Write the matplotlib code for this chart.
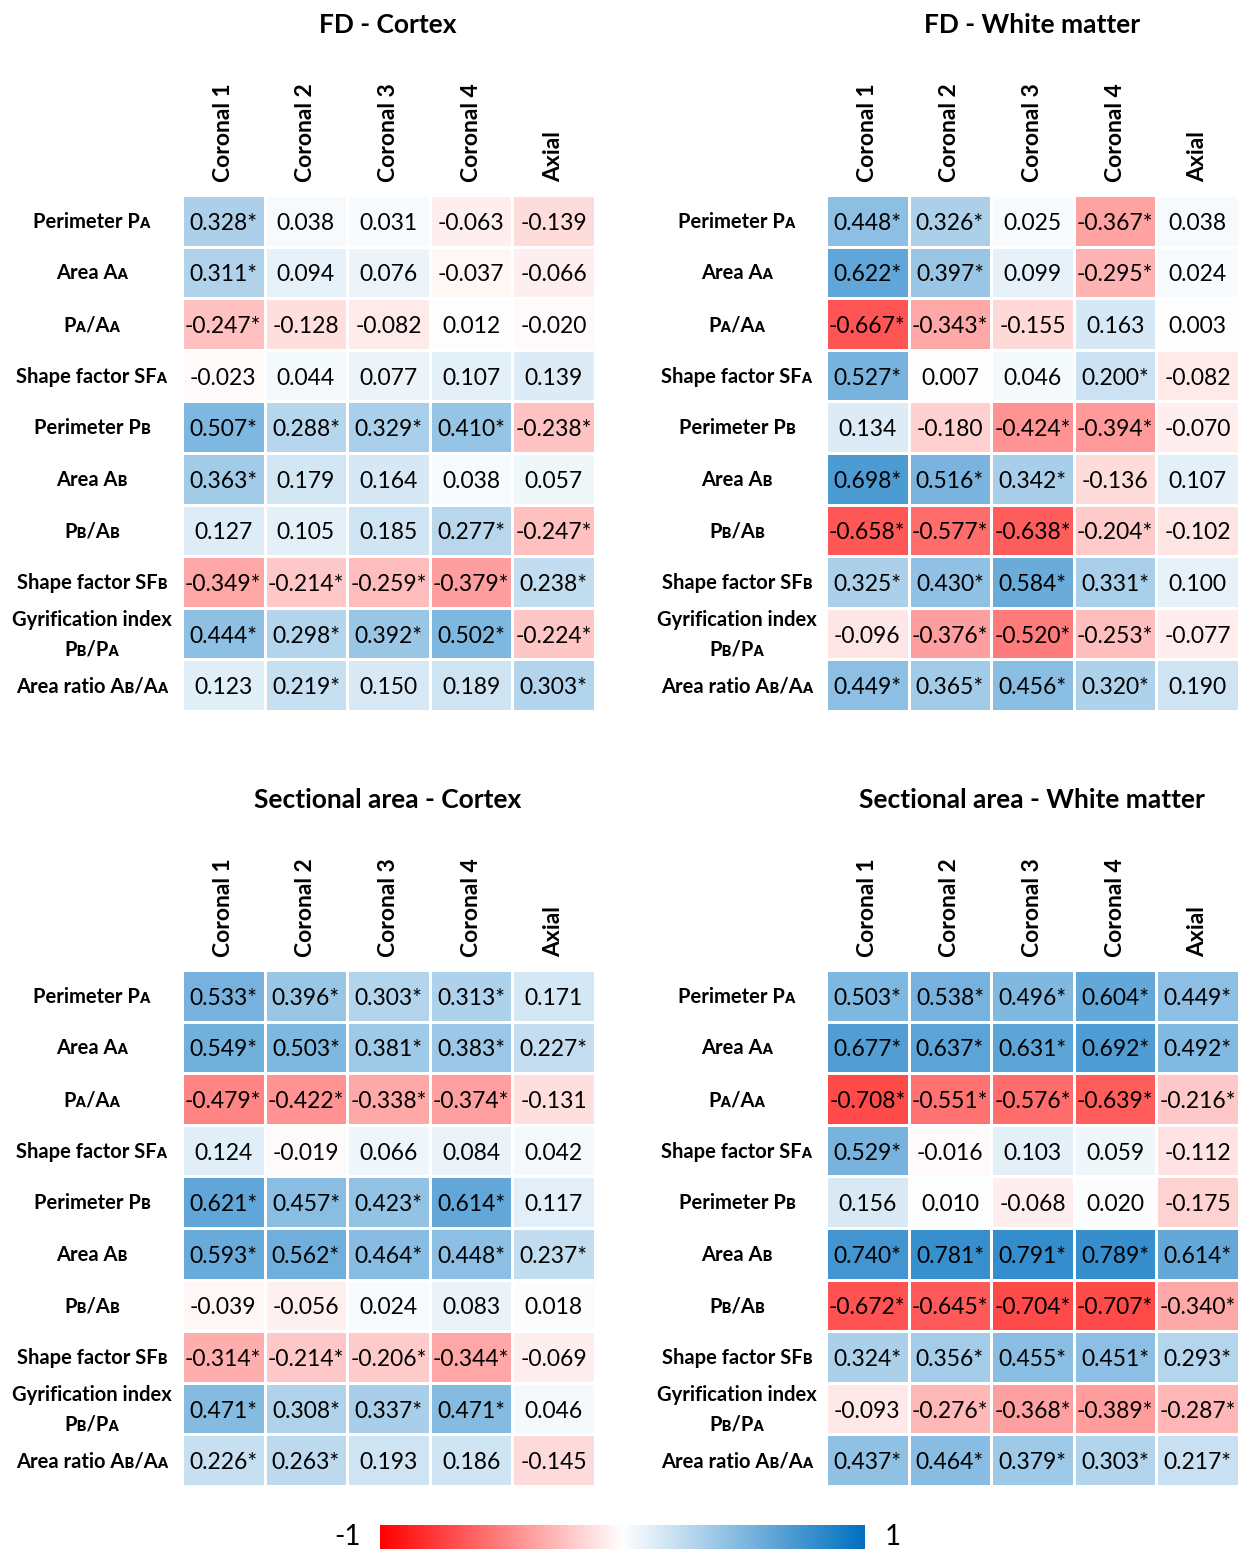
import matplotlib
matplotlib.use("Agg")
import matplotlib.pyplot as plt
import numpy as np
from matplotlib.colors import LinearSegmentedColormap
from matplotlib.transforms import blended_transform_factory

plt.rcParams['font.family'] = ['Lato', 'DejaVu Sans']

# small-capital A / B used as region markers in the row labels
A, B = "\u1d00", "\u0299"

columns = ["Coronal 1", "Coronal 2", "Coronal 3", "Coronal 4", "Axial"]
rows = [
    f"Perimeter P{A}",
    f"Area A{A}",
    f"P{A}/A{A}",
    f"Shape factor SF{A}",
    f"Perimeter P{B}",
    f"Area A{B}",
    f"P{B}/A{B}",
    f"Shape factor SF{B}",
    f"Gyrification index\nP{B}/P{A}",
    f"Area ratio A{B}/A{A}",
]

# correlation coefficients, "*" marks significance
fd_cortex = [
    ["0.328*", "0.038", "0.031", "-0.063", "-0.139"],
    ["0.311*", "0.094", "0.076", "-0.037", "-0.066"],
    ["-0.247*", "-0.128", "-0.082", "0.012", "-0.020"],
    ["-0.023", "0.044", "0.077", "0.107", "0.139"],
    ["0.507*", "0.288*", "0.329*", "0.410*", "-0.238*"],
    ["0.363*", "0.179", "0.164", "0.038", "0.057"],
    ["0.127", "0.105", "0.185", "0.277*", "-0.247*"],
    ["-0.349*", "-0.214*", "-0.259*", "-0.379*", "0.238*"],
    ["0.444*", "0.298*", "0.392*", "0.502*", "-0.224*"],
    ["0.123", "0.219*", "0.150", "0.189", "0.303*"],
]
fd_wm = [
    ["0.448*", "0.326*", "0.025", "-0.367*", "0.038"],
    ["0.622*", "0.397*", "0.099", "-0.295*", "0.024"],
    ["-0.667*", "-0.343*", "-0.155", "0.163", "0.003"],
    ["0.527*", "0.007", "0.046", "0.200*", "-0.082"],
    ["0.134", "-0.180", "-0.424*", "-0.394*", "-0.070"],
    ["0.698*", "0.516*", "0.342*", "-0.136", "0.107"],
    ["-0.658*", "-0.577*", "-0.638*", "-0.204*", "-0.102"],
    ["0.325*", "0.430*", "0.584*", "0.331*", "0.100"],
    ["-0.096", "-0.376*", "-0.520*", "-0.253*", "-0.077"],
    ["0.449*", "0.365*", "0.456*", "0.320*", "0.190"],
]
sa_cortex = [
    ["0.533*", "0.396*", "0.303*", "0.313*", "0.171"],
    ["0.549*", "0.503*", "0.381*", "0.383*", "0.227*"],
    ["-0.479*", "-0.422*", "-0.338*", "-0.374*", "-0.131"],
    ["0.124", "-0.019", "0.066", "0.084", "0.042"],
    ["0.621*", "0.457*", "0.423*", "0.614*", "0.117"],
    ["0.593*", "0.562*", "0.464*", "0.448*", "0.237*"],
    ["-0.039", "-0.056", "0.024", "0.083", "0.018"],
    ["-0.314*", "-0.214*", "-0.206*", "-0.344*", "-0.069"],
    ["0.471*", "0.308*", "0.337*", "0.471*", "0.046"],
    ["0.226*", "0.263*", "0.193", "0.186", "-0.145"],
]
sa_wm = [
    ["0.503*", "0.538*", "0.496*", "0.604*", "0.449*"],
    ["0.677*", "0.637*", "0.631*", "0.692*", "0.492*"],
    ["-0.708*", "-0.551*", "-0.576*", "-0.639*", "-0.216*"],
    ["0.529*", "-0.016", "0.103", "0.059", "-0.112"],
    ["0.156", "0.010", "-0.068", "0.020", "-0.175"],
    ["0.740*", "0.781*", "0.791*", "0.789*", "0.614*"],
    ["-0.672*", "-0.645*", "-0.704*", "-0.707*", "-0.340*"],
    ["0.324*", "0.356*", "0.455*", "0.451*", "0.293*"],
    ["-0.093", "-0.276*", "-0.368*", "-0.389*", "-0.287*"],
    ["0.437*", "0.464*", "0.379*", "0.303*", "0.217*"],
]

cmap = LinearSegmentedColormap.from_list("rwb", ["#ff0000", "#ffffff", "#0070c0"])

W, H = 1244, 1549
fig = plt.figure(figsize=(W / 100, H / 100), dpi=100)


def px_axes(x0, y0, x1, y1):
    return fig.add_axes([x0 / W, 1 - y1 / H, (x1 - x0) / W, (y1 - y0) / H])


def draw_panel(cells, title, x0, y0, label_x, title_y):
    vals = np.array([[float(c.rstrip("*")) for c in r] for r in cells])
    ax = px_axes(x0, y0, x0 + 413, y0 + 516)
    ax.pcolormesh(vals, cmap=cmap, vmin=-1, vmax=1, edgecolors="white", linewidth=2)
    ax.set_xlim(0, 5)
    ax.set_ylim(10, 0)
    for i, r in enumerate(cells):
        for j, c in enumerate(r):
            ax.text(j + 0.5, i + 0.55, c, ha="center", va="center", fontsize=16.5)
    ax.xaxis.tick_top()
    ax.set_xticks(np.arange(5) + 0.5)
    ax.set_xticklabels(columns, rotation=90, fontsize=16.5, fontweight="bold")
    ax.tick_params(length=0, pad=9)
    ax.set_yticks([])
    for s in ax.spines.values():
        s.set_visible(False)
    tr = blended_transform_factory(fig.transFigure, ax.transData)
    for i, lab in enumerate(rows):
        ax.text(label_x / W, i + 0.52, lab, transform=tr, ha="center", va="center",
                ma="center", fontsize=14.5, fontweight="bold", linespacing=1.6)
    fig.text((x0 + 206) / W, 1 - title_y / H, title, ha="center", va="center",
             fontsize=19, fontweight="bold")


draw_panel(fd_cortex, "FD - Cortex", 182, 195, 92, 25)
draw_panel(fd_wm, "FD - White matter", 826, 195, 737, 25)
draw_panel(sa_cortex, "Sectional area - Cortex", 182, 970, 92, 800)
draw_panel(sa_wm, "Sectional area - White matter", 826, 970, 737, 800)

# colour scale bar
cax = px_axes(380, 1525, 865, 1552)
grad = np.linspace(-1, 1, 512).reshape(1, -1)
cax.imshow(grad, cmap=cmap, vmin=-1, vmax=1, aspect="auto", extent=[-1, 1, 0, 1])
cax.set_xticks([])
cax.set_yticks([])
for s in cax.spines.values():
    s.set_visible(False)
fig.text(348 / W, 1 - 1537 / H, "-1", ha="center", va="center", fontsize=20)
fig.text(893 / W, 1 - 1537 / H, "1", ha="center", va="center", fontsize=20)

fig.savefig("out.png", dpi=100)
